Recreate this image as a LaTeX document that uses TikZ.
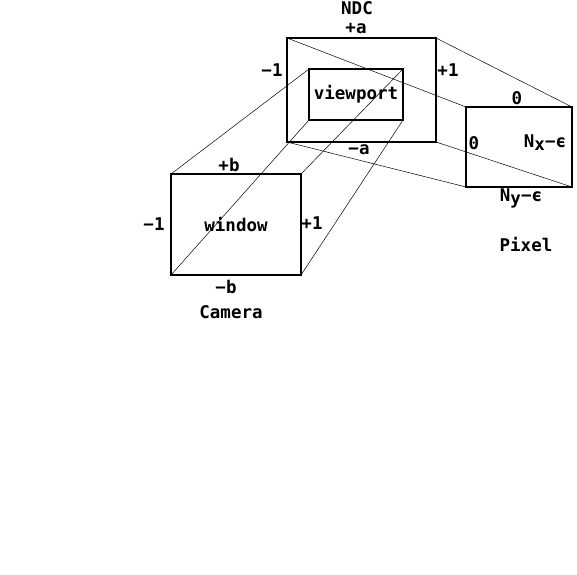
\documentclass[tikz,border=0pt]{standalone}
\usepackage{fontspec}
\setmonofont{DejaVu Sans Mono}
\begin{document}
\begin{tikzpicture}[x=1pt,y=-1pt,
  boxnode/.style={draw,line width=1.5pt,rectangle,inner sep=0pt,outer sep=0pt},
  link/.style={line width=0.5pt},
  lab/.style={font=\ttfamily\bfseries\fontsize{17.5}{19}\selectfont,inner sep=0pt}]
\useasboundingbox (0,0) rectangle (577,574);
% boxes
\node[boxnode,minimum width=149pt,minimum height=104pt] (ndc) at (361.5,90) {};
\node[boxnode,minimum width=94pt,minimum height=51pt,lab] (vp) at (356,94.5) {viewport};
\node[boxnode,minimum width=130pt,minimum height=101pt,lab] (win) at (236,224.5) {window};
\node[boxnode,minimum width=106pt,minimum height=80pt] (pix) at (519,147) {};
% connectors window -> viewport
\draw[link] (win.north west) -- (vp.north west);
\draw[link] (win.north east) -- (vp.north east);
\draw[link] (win.south west) -- (vp.south west);
\draw[link] (win.south east) -- (vp.south east);
% connectors NDC -> pixel
\draw[link] (ndc.north west) -- (pix.north west);
\draw[link] (ndc.north east) -- (pix.north east);
\draw[link] (ndc.south west) -- (pix.south west);
\draw[link] (ndc.south east) -- (pix.south east);
% labels
\node[lab] (lndc) at (357,8) {NDC};
\node[lab] (lpa) at (356,29) {+a};
\node[lab] (lm1a) at (272,70) {−1};
\node[lab] (lp1a) at (448,70) {+1};
\node[lab] (lma) at (359,150) {−a};
\node[lab] (lpb) at (229,165) {+b};
\node[lab] (lm1b) at (154,224) {−1};
\node[lab] (lp1b) at (312,223) {+1};
\node[lab] (lmb) at (226,287) {−b};
\node[lab] (lcam) at (231,312) {Camera};
\node[lab] (lz1) at (517,98) {0};
\node[lab] (lz2) at (474,143) {0};
\node[lab] (lnx) at (545,143) {N\raisebox{-3pt}{x}−ϵ};
\node[lab] (lny) at (521,198) {N\raisebox{-3pt}{y}−ϵ};
\node[lab] (lpix) at (526,245) {Pixel};
\end{tikzpicture}
\end{document}
